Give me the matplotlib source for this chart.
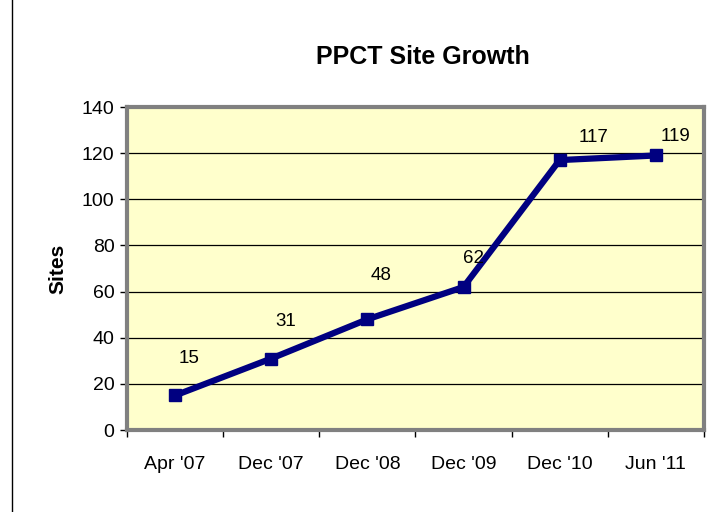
import numpy as np
import matplotlib.pyplot as plt
from matplotlib.lines import Line2D

plt.rcParams['font.family'] = ['Liberation Sans', 'DejaVu Sans']

periods = ["Apr '07", "Dec '07", "Dec '08", "Dec '09", "Dec '10", "Jun '11"]
sites = [15, 31, 48, 62, 117, 119]
# label offsets in pixels (dx, dy), roughly where Excel put them
label_offsets = [(14, 28), (15, 29), (14, 35), (10, 20), (34, 14), (20, 10)]

fig = plt.figure(figsize=(7.11, 5.12), dpi=100)
ax = fig.add_axes([0.1786, 0.160, 0.8114, 0.631])
ax.set_facecolor('#FFFFCC')

x = np.arange(len(periods))
ax.plot(x, sites, color='#000080', lw=4.5, marker='s', ms=9, zorder=3)

for xi, v, (dx, dy) in zip(x, sites, label_offsets):
    ax.annotate(str(v), (xi, v), xytext=(dx * 0.72, dy * 0.72), textcoords='offset points',
                ha='center', va='bottom', fontsize=13.5)

ax.set_xlim(-0.5, len(periods) - 0.5)
ax.set_ylim(0, 140)
ax.set_yticks(range(0, 141, 20))
ax.yaxis.grid(True, color='black', lw=0.9)
ax.set_axisbelow(True)

ax.set_xticks(x)
ax.set_xticklabels(periods, fontsize=14)
ax.set_xticks(np.arange(-0.5, len(periods)), minor=True)
ax.tick_params(axis='x', which='major', length=0, pad=19)
ax.tick_params(axis='x', which='minor', length=5, width=1, color='black')
ax.tick_params(axis='y', labelsize=14, length=5, width=1, color='black', pad=4)

for s in ax.spines.values():
    s.set_color('#808080')
    s.set_linewidth(3)

ax.set_ylabel('Sites', fontsize=15, fontweight='bold', labelpad=10)
fig.text(0.595, 0.888, 'PPCT Site Growth', ha='center', va='center', fontsize=18, fontweight='bold')

# thin frame line down the left edge of the slide
fig.add_artist(Line2D([0.017, 0.017], [0, 1], transform=fig.transFigure, color='black', lw=1))

fig.savefig('out.png', dpi=100)
